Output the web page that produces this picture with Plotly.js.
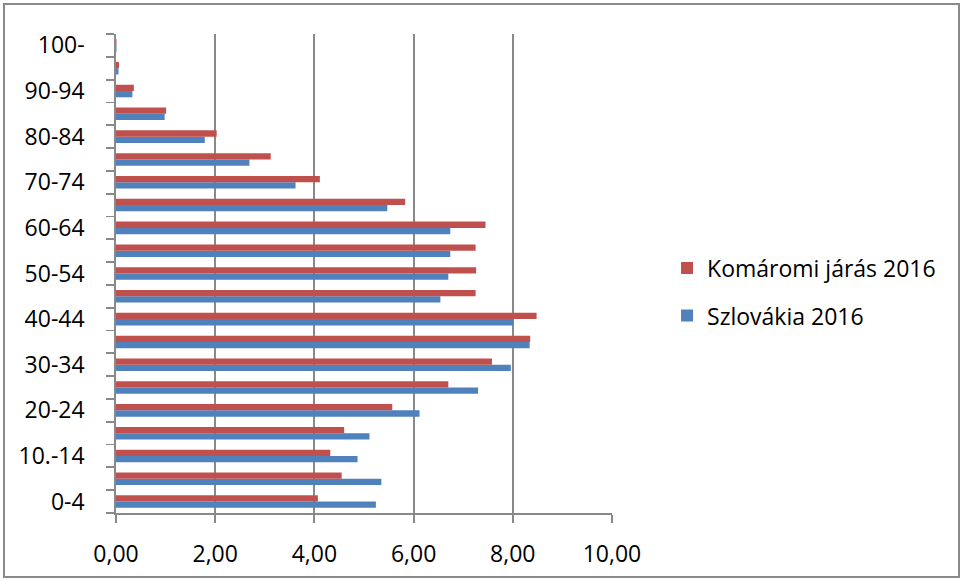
<!DOCTYPE html>
<html>
<head>
<meta charset="utf-8">
<script src="https://cdn.plot.ly/plotly-3.0.1.min.js"></script>
<style>
html,body{margin:0;padding:0;background:#fff;}
#chart{position:absolute;left:0;top:0;width:964px;height:581px;}
#frame{position:absolute;left:3px;top:3px;width:957px;height:575px;box-sizing:border-box;border:2px solid #8a8a8a;pointer-events:none;}
</style>
</head>
<body>
<div id="chart"></div>
<div id="frame"></div>
<script>
const categories = ["0-4","5-9","10.-14","15-19","20-24","25-29","30-34","35-39","40-44","45-49","50-54","55-59","60-64","65-69","70-74","75-79","80-84","85-89","90-94","95-99","100-"];
const komaromi2016 = [4.07,4.55,4.32,4.60,5.57,6.70,7.58,8.35,8.48,7.25,7.26,7.25,7.45,5.83,4.11,3.12,2.03,1.01,0.36,0.06,0.01];
const szlovakia2016 = [5.24,5.35,4.87,5.11,6.12,7.30,7.96,8.34,8.01,6.54,6.70,6.74,6.74,5.47,3.62,2.69,1.79,0.98,0.33,0.05,0.01];
const labelEvery = 2;
const xTicks = [0,2,4,6,8,10];

const pos = categories.map((c,i)=>i);
const labelVals = pos.filter(i=>i%labelEvery===0);
const labelText = labelVals.map(i=>categories[i]);
const boundaries = [];
for (let i=0;i<=categories.length;i++) boundaries.push(i-0.5);

const FONT = "'Open Sans', 'Liberation Sans', sans-serif";
const GRID = "#898989";

const traces = [
  {type:"bar", orientation:"h", name:"Szlovákia 2016", x:szlovakia2016, y:pos,
   text:categories, hoverinfo:"x+text+name",
   marker:{color:"#4F81BD"}, legend:"legend2"},
  {type:"bar", orientation:"h", name:"Komáromi járás 2016", x:komaromi2016, y:pos,
   text:categories, hoverinfo:"x+text+name", textposition:"none",
   marker:{color:"#C0504D"}, legend:"legend"}
];
traces[0].textposition = "none";

const layout = {
  width:964, height:581,
  margin:{l:116, r:352, t:34, b:68},
  paper_bgcolor:"#fff", plot_bgcolor:"#fff",
  font:{family:FONT, size:23, color:"#000"},
  barmode:"group", bargap:0.45, bargroupgap:0,
  separators:",.",
  showlegend:true,
  xaxis:{range:[0,10], tickvals:xTicks, tickformat:".2f",
         showgrid:true, gridcolor:GRID, gridwidth:1.8,
         showline:true, linecolor:GRID, linewidth:1.8,
         ticks:"outside", ticklen:8, tickcolor:GRID, tickwidth:1.8,
         ticklabelstandoff:12, zeroline:false, fixedrange:true,
         tickfont:{family:FONT, size:23, color:"#000"}},
  yaxis:{range:[-0.5, categories.length-0.5], tickvals:labelVals, ticktext:labelText,
         ticks:"", showgrid:false, zeroline:false,
         showline:true, linecolor:GRID, linewidth:1.8,
         ticklabelstandoff:25, fixedrange:true,
         tickfont:{family:FONT, size:23, color:"#000"},
         minor:{tickvals:boundaries, ticks:"outside", ticklen:8, tickcolor:GRID, tickwidth:1.8, showgrid:false}},
  legend:{x:1.111, xanchor:"left", y:0.5115, yanchor:"middle", bgcolor:"rgba(0,0,0,0)",
          font:{family:FONT, size:23, color:"#000"}},
  legend2:{x:1.111, xanchor:"left", y:0.412, yanchor:"middle", bgcolor:"rgba(0,0,0,0)",
          font:{family:FONT, size:23, color:"#000"}}
};

Plotly.newPlot("chart", traces, layout, {displayModeBar:false, staticPlot:true});
</script>
</body>
</html>
